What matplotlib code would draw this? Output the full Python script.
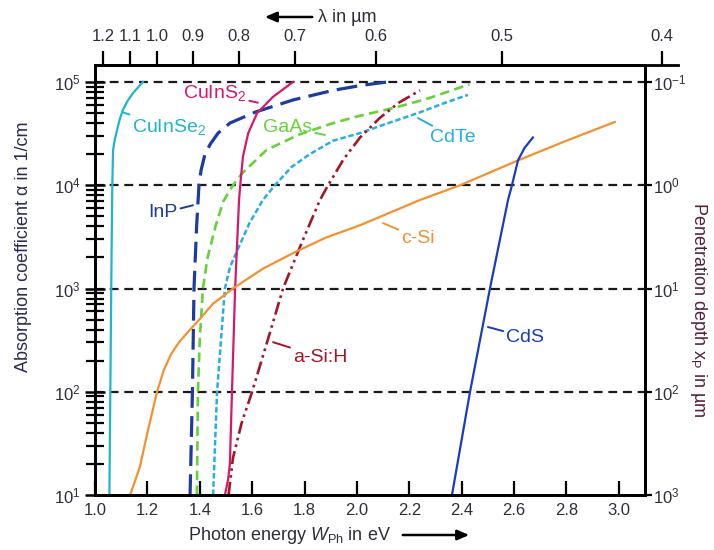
import numpy as np
import matplotlib
matplotlib.use("Agg")
import matplotlib.pyplot as plt

plt.rcParams.update({"font.family": ["Liberation Sans", "DejaVu Sans"],
    "mathtext.fontset": "custom", "mathtext.rm": "Liberation Sans",
    "mathtext.it": "Liberation Sans:italic", "mathtext.bf": "Liberation Sans:bold"})

# --- data: photon energy (eV) vs absorption coefficient (1/cm) ---
cuinse2_e = [1.055, 1.062, 1.066, 1.069, 1.076, 1.084, 1.095, 1.107, 1.125, 1.145, 1.165, 1.183]
cuinse2_a = [10, 1e3, 1e4, 2.2e4, 2.8e4, 3.4e4, 4.4e4, 5.4e4, 6.6e4, 7.8e4, 8.9e4, 1e5]

inp_e = [1.363, 1.372, 1.378, 1.388, 1.397, 1.405, 1.42, 1.44, 1.47, 1.515, 1.611, 1.756, 1.909, 2.02, 2.115]
inp_a = [10, 100, 1e3, 4e3, 1e4, 1.4e4, 2e4, 2.5e4, 3.2e4, 4e4, 5.1e4, 6.7e4, 8.3e4, 9.3e4, 1e5]

gaas_e = [1.389, 1.393, 1.40, 1.412, 1.43, 1.46, 1.49, 1.527, 1.561, 1.655, 1.78, 1.909, 2.01, 2.14, 2.27, 2.43]
gaas_a = [10, 100, 320, 1e3, 2e3, 4e3, 7e3, 1e4, 1.3e4, 2.2e4, 3.1e4, 4e4, 4.7e4, 5.6e4, 6.9e4, 9.5e4]

cdte_e = [1.451, 1.466, 1.496, 1.515, 1.542, 1.59, 1.641, 1.687, 1.75, 1.82, 1.909, 2.012, 2.12, 2.233, 2.33, 2.424]
cdte_a = [10, 100, 1e3, 1.6e3, 2.3e3, 4.3e3, 7.2e3, 1e4, 1.5e4, 2e4, 2.7e4, 3.2e4, 4e4, 5e4, 6.2e4, 7.5e4]

cuins2_e = [1.496, 1.508, 1.515, 1.523, 1.535, 1.55, 1.556, 1.565, 1.585, 1.619, 1.68, 1.756]
cuins2_a = [10, 14, 20, 100, 1e3, 7.2e3, 1.1e4, 1.9e4, 3.2e4, 5e4, 7.2e4, 1e5]

asih_e = [1.51, 1.527, 1.56, 1.6, 1.66, 1.718, 1.79, 1.859, 1.89, 1.95, 2.012, 2.088, 2.16, 2.241]
asih_a = [10, 23, 50, 100, 320, 1e3, 2.8e3, 7.2e3, 1e4, 1.8e4, 2.9e4, 4.5e4, 6.3e4, 8.3e4]

csi_e = [1.134, 1.15, 1.172, 1.2, 1.237, 1.262, 1.29, 1.32, 1.355, 1.389, 1.45, 1.527, 1.64, 1.756, 1.88,
         2.012, 2.241, 2.394, 2.615, 2.8, 2.985]
csi_a = [10, 13, 19, 40, 100, 160, 230, 300, 380, 470, 710, 1e3, 1.55e3, 2.2e3, 3.1e3,
         4.1e3, 7.2e3, 1e4, 1.74e4, 2.7e4, 4.1e4]

cds_e = [2.363, 2.432, 2.508, 2.577, 2.592, 2.615, 2.64, 2.672]
cds_a = [10, 100, 1e3, 7.2e3, 1e4, 1.74e4, 2.3e4, 2.9e4]

grid_levels = [1e2, 1e3, 1e4, 1e5]
x_ticks = [1.0, 1.2, 1.4, 1.6, 1.8, 2.0, 2.2, 2.4, 2.6, 2.8, 3.0]
# wavelength ticks (µm) and where they sit on the energy scale in the picture
top_labels = ["1.2", "1.1", "1.0", "0.9", "0.8", "0.7", "0.6", "0.5", "0.4"]
top_tick_ev = [1.031, 1.134, 1.237, 1.374, 1.550, 1.764, 2.073, 2.554, 3.165]

DARK = "#2e2e38"
C_CUINSE2 = "#1fb6c9"; C_INP = "#1d3c9e"; C_GAAS = "#66d13a"; C_CDTE = "#28aee0"
C_CUINS2 = "#d4196c"; C_ASIH = "#a3162a"; C_CSI = "#f39130"; C_CDS = "#1a3cc0"

fig = plt.figure(figsize=(7.14, 5.5), dpi=100)
L, B, W, H = 95/714, 55/550, 550/714, 430/550
ax = fig.add_axes([L, B, W, H])
ax.set_yscale("log")
ax.set_xlim(1.0, 3.1)
ax.set_ylim(10, 10**(1 + 430/103.25))

for lv in grid_levels:
    ax.axhline(lv, color="#1a1a1a", lw=1.6, ls=(0, (4, 2.6)), zorder=1)

ax.plot(cuinse2_e, cuinse2_a, color=C_CUINSE2, lw=1.6)
ax.plot(inp_e, inp_a, color=C_INP, lw=2.3, ls=(0, (6.5, 2.6)))
ax.plot(gaas_e, gaas_a, color=C_GAAS, lw=1.9, ls=(0, (3.6, 2.0)))
ax.plot(cdte_e, cdte_a, color=C_CDTE, lw=1.8, ls=(0, (2.2, 1.1)))
ax.plot(cuins2_e, cuins2_a, color=C_CUINS2, lw=1.6)
ax.plot(asih_e, asih_a, color=C_ASIH, lw=1.9, ls=(0, (5, 1.6, 1, 1.6, 1, 1.6)))
ax.plot(csi_e, csi_a, color=C_CSI, lw=1.6)
ax.plot(cds_e, cds_a, color=C_CDS, lw=1.6)

# curve labels with leader lines: (text, text pos, leader end, colour)
labels = [("CuInSe$_2$", (1.284, 3.66e4), (1.104, 5.1e4), C_CUINSE2),
          ("CuInS$_2$", (1.458, 7.8e4), (1.622, 6.3e4), C_CUINS2),
          ("GaAs", (1.737, 3.66e4), (1.878, 3.07e4), C_GAAS),
          ("CdTe", (2.367, 2.93e4), (2.233, 4.48e4), C_CDTE),
          ("InP", (1.26, 5.4e3), (1.374, 6.4e3), C_INP),
          ("c-Si", (2.233, 3.08e3), (2.10, 4.3e3), C_CSI),
          ("a-Si:H", (1.859, 217), (1.68, 302), C_ASIH),
          ("CdS", (2.642, 339), (2.50, 424), C_CDS)]
for txt, tpos, lpos, c in labels:
    ax.annotate(txt, xy=lpos, xytext=tpos, color=c, fontsize=14, ha="center", va="center",
                arrowprops=dict(arrowstyle="-", color=c, lw=1.4, shrinkA=0, shrinkB=0))

ax.set_xticks(x_ticks)
ax.set_xticklabels([f"{v:.1f}" for v in x_ticks])
ax.tick_params(axis="x", direction="in", length=10, width=1.6, labelsize=12, colors="black",
               labelcolor=DARK, pad=6)
ax.tick_params(axis="y", which="major", direction="inout", length=15, width=1.8, labelsize=12,
               labelcolor=DARK, pad=3)
ax.tick_params(axis="y", which="minor", direction="inout", length=13, width=1.6)
for s in ax.spines.values():
    s.set_linewidth(2)

# right axis: penetration depth in µm = 1e4 / alpha
ax2 = ax.twinx()
ax2.set_yscale("log")
lo, hi = ax.get_ylim()
ax2.set_ylim(1e4/lo, 1e4/hi)
ax2.set_yticks([1e-1, 1e0, 1e1, 1e2, 1e3])
ax2.yaxis.set_minor_locator(matplotlib.ticker.NullLocator())
ax2.tick_params(axis="y", direction="out", length=5, width=1.6, labelsize=12, labelcolor=DARK, pad=1)
for s in ax2.spines.values():
    s.set_linewidth(2)

# top axis: wavelength, extends beyond the frame as in the picture
axt = fig.add_axes([L, B, (678 - 95)/714, H])
axt.patch.set_visible(False)
axt.set_xlim(1.0, 3.1 + 33/261.9)
axt.set_yticks([])
for k in ["left", "right", "bottom"]:
    axt.spines[k].set_visible(False)
axt.spines["top"].set_linewidth(2)
axt.xaxis.tick_top()
axt.set_xticks(top_tick_ev)
axt.set_xticklabels(top_labels)
axt.tick_params(axis="x", direction="out", length=10, width=1.6, labelsize=12, labelcolor=DARK, pad=5)

# axis titles with arrows
fig.text(188/714, 1 - 535/550, "Photon energy $W_{\\mathrm{Ph}}$ in eV", fontsize=13,
         ha="left", va="center", color=DARK)
fig.patches.append(matplotlib.patches.FancyArrowPatch((400/714, 1 - 535/550), (472/714, 1 - 535/550),
    transform=fig.transFigure, arrowstyle="-|>,head_length=7,head_width=3", lw=1.8, color="black",
    mutation_scale=1))
fig.text(318/714, 1 - 17/550, "λ in µm", fontsize=13, ha="left", va="center", color=DARK)
fig.patches.append(matplotlib.patches.FancyArrowPatch((315/714, 1 - 17/550), (262/714, 1 - 17/550),
    transform=fig.transFigure, arrowstyle="-|>,head_length=7,head_width=3", lw=1.8, color="black",
    mutation_scale=1))
fig.text(24/714, 1 - 247/550, "Absorption coefficient α in 1/cm", fontsize=13, rotation=90,
         ha="center", va="center", color="#2b2a55")
fig.text(699/714, 1 - 310/550, "Penetration depth x$_{\\mathrm{P}}$ in µm", fontsize=13, rotation=-90,
         ha="center", va="center", color="#55203f")

fig.savefig("out.png", dpi=100)
